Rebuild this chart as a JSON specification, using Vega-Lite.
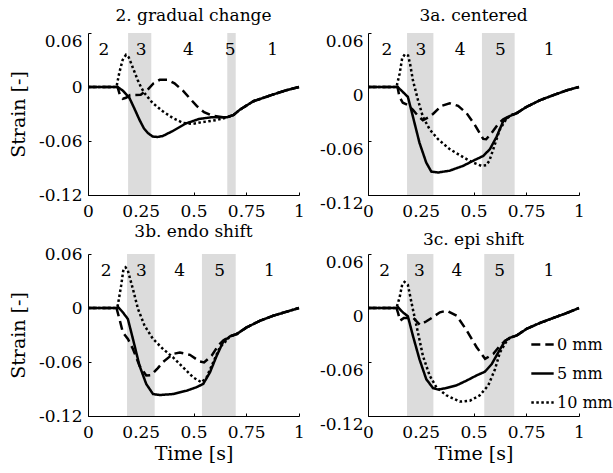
{
"$schema": "https://vega.github.io/schema/vega-lite/v6.json",
"background": "white",
"padding": {"left": 9, "top": 7, "right": 0, "bottom": 0},
"config": {
  "view": {"stroke": null},
  "font": "DejaVu Serif",
  "axis": {"domainColor": "black", "tickColor": "black", "labelColor": "black", "titleColor": "black", "labelFont": "DejaVu Serif", "titleFont": "DejaVu Serif", "labelFontSize": 17, "titleFontSize": 19, "titleFontWeight": "normal", "grid": false, "tickSize": -3, "domainWidth": 1, "tickWidth": 1},
  "legend": {"labelFont": "DejaVu Serif"},
  "title": {"font": "DejaVu Serif", "fontSize": 17, "fontWeight": "normal", "color": "black", "frame": "group", "baseline": "alphabetic"},
  "text": {"font": "DejaVu Serif", "fontSize": 17, "baseline": "middle", "align": "center", "color": "black"}
},
"resolve": {"scale": {"strokeDash": "independent"}, "legend": {"strokeDash": "independent"}},
"datasets": {
  "bands": [
    {"p": "A", "x1": 0.19, "x2": 0.30}, {"p": "A", "x1": 0.66, "x2": 0.70},
    {"p": "B", "x1": 0.185, "x2": 0.31}, {"p": "B", "x1": 0.54, "x2": 0.695},
    {"p": "C", "x1": 0.185, "x2": 0.316}, {"p": "C", "x1": 0.54, "x2": 0.70},
    {"p": "D", "x1": 0.185, "x2": 0.31}, {"p": "D", "x1": 0.551, "x2": 0.693}
  ],
  "labels": [
    {"p": "A", "t": 0.075, "n": "2"}, {"p": "A", "t": 0.252, "n": "3"}, {"p": "A", "t": 0.476, "n": "4"}, {"p": "A", "t": 0.674, "n": "5"}, {"p": "A", "t": 0.875, "n": "1"},
    {"p": "B", "t": 0.09, "n": "2"}, {"p": "B", "t": 0.251, "n": "3"}, {"p": "B", "t": 0.437, "n": "4"}, {"p": "B", "t": 0.627, "n": "5"}, {"p": "B", "t": 0.858, "n": "1"},
    {"p": "C", "t": 0.086, "n": "2"}, {"p": "C", "t": 0.253, "n": "3"}, {"p": "C", "t": 0.434, "n": "4"}, {"p": "C", "t": 0.624, "n": "5"}, {"p": "C", "t": 0.86, "n": "1"},
    {"p": "D", "t": 0.079, "n": "2"}, {"p": "D", "t": 0.244, "n": "3"}, {"p": "D", "t": 0.421, "n": "4"}, {"p": "D", "t": 0.624, "n": "5"}, {"p": "D", "t": 0.857, "n": "1"}
  ],
  "lines": [
    {"p":"A","r":"5 mm","t":0,"s":0},{"p":"A","r":"5 mm","t":0.14,"s":0},{"p":"A","r":"5 mm","t":0.165,"s":-0.004},{"p":"A","r":"5 mm","t":0.196,"s":-0.012},{"p":"A","r":"5 mm","t":0.22,"s":-0.024},{"p":"A","r":"5 mm","t":0.243,"s":-0.036},{"p":"A","r":"5 mm","t":0.265,"s":-0.046},{"p":"A","r":"5 mm","t":0.283,"s":-0.051},{"p":"A","r":"5 mm","t":0.306,"s":-0.055},{"p":"A","r":"5 mm","t":0.33,"s":-0.0555},{"p":"A","r":"5 mm","t":0.354,"s":-0.0545},{"p":"A","r":"5 mm","t":0.401,"s":-0.049},{"p":"A","r":"5 mm","t":0.464,"s":-0.0405},{"p":"A","r":"5 mm","t":0.528,"s":-0.0354},{"p":"A","r":"5 mm","t":0.59,"s":-0.0335},{"p":"A","r":"5 mm","t":0.66,"s":-0.0335},{"p":"A","r":"5 mm","t":0.69,"s":-0.031},{"p":"A","r":"5 mm","t":0.721,"s":-0.025},{"p":"A","r":"5 mm","t":0.784,"s":-0.0158},{"p":"A","r":"5 mm","t":0.875,"s":-0.0085},{"p":"A","r":"5 mm","t":0.938,"s":-0.0037},{"p":"A","r":"5 mm","t":1,"s":0},
    {"p":"A","r":"0 mm","t":0,"s":0},{"p":"A","r":"0 mm","t":0.14,"s":0},{"p":"A","r":"0 mm","t":0.15,"s":-0.008},{"p":"A","r":"0 mm","t":0.165,"s":-0.013},{"p":"A","r":"0 mm","t":0.18,"s":-0.012},{"p":"A","r":"0 mm","t":0.2,"s":-0.009},{"p":"A","r":"0 mm","t":0.25,"s":-0.0085},{"p":"A","r":"0 mm","t":0.283,"s":-0.003},{"p":"A","r":"0 mm","t":0.31,"s":0.004},{"p":"A","r":"0 mm","t":0.34,"s":0.008},{"p":"A","r":"0 mm","t":0.375,"s":0.008},{"p":"A","r":"0 mm","t":0.41,"s":0.004},{"p":"A","r":"0 mm","t":0.45,"s":-0.004},{"p":"A","r":"0 mm","t":0.48,"s":-0.012},{"p":"A","r":"0 mm","t":0.515,"s":-0.021},{"p":"A","r":"0 mm","t":0.55,"s":-0.028},{"p":"A","r":"0 mm","t":0.59,"s":-0.032},{"p":"A","r":"0 mm","t":0.64,"s":-0.0335},{"p":"A","r":"0 mm","t":0.66,"s":-0.0335},{"p":"A","r":"0 mm","t":0.69,"s":-0.031},{"p":"A","r":"0 mm","t":0.721,"s":-0.025},{"p":"A","r":"0 mm","t":0.784,"s":-0.0158},{"p":"A","r":"0 mm","t":0.875,"s":-0.0085},{"p":"A","r":"0 mm","t":0.938,"s":-0.0037},{"p":"A","r":"0 mm","t":1,"s":0},
    {"p":"A","r":"10 mm","t":0,"s":0},{"p":"A","r":"10 mm","t":0.135,"s":0},{"p":"A","r":"10 mm","t":0.148,"s":0.0155},{"p":"A","r":"10 mm","t":0.164,"s":0.03},{"p":"A","r":"10 mm","t":0.18,"s":0.0357},{"p":"A","r":"10 mm","t":0.193,"s":0.033},{"p":"A","r":"10 mm","t":0.204,"s":0.0265},{"p":"A","r":"10 mm","t":0.22,"s":0.017},{"p":"A","r":"10 mm","t":0.235,"s":0.0081},{"p":"A","r":"10 mm","t":0.25,"s":0.0005},{"p":"A","r":"10 mm","t":0.267,"s":-0.0066},{"p":"A","r":"10 mm","t":0.306,"s":-0.0177},{"p":"A","r":"10 mm","t":0.354,"s":-0.0269},{"p":"A","r":"10 mm","t":0.401,"s":-0.0343},{"p":"A","r":"10 mm","t":0.449,"s":-0.0398},{"p":"A","r":"10 mm","t":0.496,"s":-0.0409},{"p":"A","r":"10 mm","t":0.543,"s":-0.039},{"p":"A","r":"10 mm","t":0.607,"s":-0.0368},{"p":"A","r":"10 mm","t":0.66,"s":-0.0338},{"p":"A","r":"10 mm","t":0.69,"s":-0.031},{"p":"A","r":"10 mm","t":0.721,"s":-0.025},{"p":"A","r":"10 mm","t":0.784,"s":-0.0158},{"p":"A","r":"10 mm","t":0.875,"s":-0.0085},{"p":"A","r":"10 mm","t":0.938,"s":-0.0037},{"p":"A","r":"10 mm","t":1,"s":0},

    {"p":"B","r":"5 mm","t":0,"s":0},{"p":"B","r":"5 mm","t":0.141,"s":0},{"p":"B","r":"5 mm","t":0.165,"s":-0.0055},{"p":"B","r":"5 mm","t":0.189,"s":-0.011},{"p":"B","r":"5 mm","t":0.213,"s":-0.033},{"p":"B","r":"5 mm","t":0.244,"s":-0.062},{"p":"B","r":"5 mm","t":0.276,"s":-0.084},{"p":"B","r":"5 mm","t":0.3,"s":-0.094},{"p":"B","r":"5 mm","t":0.332,"s":-0.095},{"p":"B","r":"5 mm","t":0.387,"s":-0.093},{"p":"B","r":"5 mm","t":0.451,"s":-0.0876},{"p":"B","r":"5 mm","t":0.498,"s":-0.082},{"p":"B","r":"5 mm","t":0.546,"s":-0.0766},{"p":"B","r":"5 mm","t":0.578,"s":-0.069},{"p":"B","r":"5 mm","t":0.61,"s":-0.055},{"p":"B","r":"5 mm","t":0.641,"s":-0.038},{"p":"B","r":"5 mm","t":0.665,"s":-0.033},{"p":"B","r":"5 mm","t":0.705,"s":-0.029},{"p":"B","r":"5 mm","t":0.752,"s":-0.022},{"p":"B","r":"5 mm","t":0.816,"s":-0.0146},{"p":"B","r":"5 mm","t":0.879,"s":-0.009},{"p":"B","r":"5 mm","t":0.943,"s":-0.0036},{"p":"B","r":"5 mm","t":1,"s":0},
    {"p":"B","r":"0 mm","t":0,"s":0},{"p":"B","r":"0 mm","t":0.14,"s":0},{"p":"B","r":"0 mm","t":0.149,"s":-0.011},{"p":"B","r":"0 mm","t":0.165,"s":-0.0175},{"p":"B","r":"0 mm","t":0.189,"s":-0.02},{"p":"B","r":"0 mm","t":0.213,"s":-0.0255},{"p":"B","r":"0 mm","t":0.237,"s":-0.032},{"p":"B","r":"0 mm","t":0.26,"s":-0.037},{"p":"B","r":"0 mm","t":0.285,"s":-0.034},{"p":"B","r":"0 mm","t":0.308,"s":-0.03},{"p":"B","r":"0 mm","t":0.348,"s":-0.021},{"p":"B","r":"0 mm","t":0.387,"s":-0.018},{"p":"B","r":"0 mm","t":0.427,"s":-0.021},{"p":"B","r":"0 mm","t":0.467,"s":-0.029},{"p":"B","r":"0 mm","t":0.506,"s":-0.042},{"p":"B","r":"0 mm","t":0.546,"s":-0.0577},{"p":"B","r":"0 mm","t":0.56,"s":-0.058},{"p":"B","r":"0 mm","t":0.586,"s":-0.051},{"p":"B","r":"0 mm","t":0.617,"s":-0.041},{"p":"B","r":"0 mm","t":0.641,"s":-0.036},{"p":"B","r":"0 mm","t":0.665,"s":-0.033},{"p":"B","r":"0 mm","t":0.705,"s":-0.029},{"p":"B","r":"0 mm","t":0.752,"s":-0.022},{"p":"B","r":"0 mm","t":0.816,"s":-0.0146},{"p":"B","r":"0 mm","t":0.879,"s":-0.009},{"p":"B","r":"0 mm","t":0.943,"s":-0.0036},{"p":"B","r":"0 mm","t":1,"s":0},
    {"p":"B","r":"10 mm","t":0,"s":0},{"p":"B","r":"10 mm","t":0.135,"s":0},{"p":"B","r":"10 mm","t":0.15,"s":0.015},{"p":"B","r":"10 mm","t":0.162,"s":0.032},{"p":"B","r":"10 mm","t":0.175,"s":0.0365},{"p":"B","r":"10 mm","t":0.19,"s":0.035},{"p":"B","r":"10 mm","t":0.2,"s":0.025},{"p":"B","r":"10 mm","t":0.213,"s":0.0073},{"p":"B","r":"10 mm","t":0.237,"s":-0.0146},{"p":"B","r":"10 mm","t":0.26,"s":-0.033},{"p":"B","r":"10 mm","t":0.292,"s":-0.047},{"p":"B","r":"10 mm","t":0.332,"s":-0.058},{"p":"B","r":"10 mm","t":0.387,"s":-0.069},{"p":"B","r":"10 mm","t":0.451,"s":-0.078},{"p":"B","r":"10 mm","t":0.498,"s":-0.084},{"p":"B","r":"10 mm","t":0.538,"s":-0.0876},{"p":"B","r":"10 mm","t":0.56,"s":-0.087},{"p":"B","r":"10 mm","t":0.575,"s":-0.082},{"p":"B","r":"10 mm","t":0.594,"s":-0.069},{"p":"B","r":"10 mm","t":0.625,"s":-0.047},{"p":"B","r":"10 mm","t":0.657,"s":-0.035},{"p":"B","r":"10 mm","t":0.68,"s":-0.031},{"p":"B","r":"10 mm","t":0.705,"s":-0.029},{"p":"B","r":"10 mm","t":0.752,"s":-0.022},{"p":"B","r":"10 mm","t":0.816,"s":-0.0146},{"p":"B","r":"10 mm","t":0.879,"s":-0.009},{"p":"B","r":"10 mm","t":0.943,"s":-0.0036},{"p":"B","r":"10 mm","t":1,"s":0},

    {"p":"C","r":"5 mm","t":0,"s":0},{"p":"C","r":"5 mm","t":0.135,"s":0},{"p":"C","r":"5 mm","t":0.143,"s":0.001},{"p":"C","r":"5 mm","t":0.165,"s":-0.0048},{"p":"C","r":"5 mm","t":0.189,"s":-0.0122},{"p":"C","r":"5 mm","t":0.213,"s":-0.0344},{"p":"C","r":"5 mm","t":0.244,"s":-0.064},{"p":"C","r":"5 mm","t":0.276,"s":-0.0844},{"p":"C","r":"5 mm","t":0.308,"s":-0.0956},{"p":"C","r":"5 mm","t":0.34,"s":-0.0967},{"p":"C","r":"5 mm","t":0.403,"s":-0.0956},{"p":"C","r":"5 mm","t":0.467,"s":-0.0919},{"p":"C","r":"5 mm","t":0.514,"s":-0.088},{"p":"C","r":"5 mm","t":0.546,"s":-0.0844},{"p":"C","r":"5 mm","t":0.578,"s":-0.0715},{"p":"C","r":"5 mm","t":0.61,"s":-0.053},{"p":"C","r":"5 mm","t":0.641,"s":-0.0374},{"p":"C","r":"5 mm","t":0.673,"s":-0.0315},{"p":"C","r":"5 mm","t":0.705,"s":-0.0289},{"p":"C","r":"5 mm","t":0.752,"s":-0.0215},{"p":"C","r":"5 mm","t":0.816,"s":-0.0141},{"p":"C","r":"5 mm","t":0.879,"s":-0.0085},{"p":"C","r":"5 mm","t":0.943,"s":-0.004},{"p":"C","r":"5 mm","t":1,"s":0},
    {"p":"C","r":"0 mm","t":0,"s":0},{"p":"C","r":"0 mm","t":0.135,"s":0},{"p":"C","r":"0 mm","t":0.149,"s":-0.0122},{"p":"C","r":"0 mm","t":0.165,"s":-0.027},{"p":"C","r":"0 mm","t":0.189,"s":-0.0344},{"p":"C","r":"0 mm","t":0.213,"s":-0.0456},{"p":"C","r":"0 mm","t":0.244,"s":-0.064},{"p":"C","r":"0 mm","t":0.276,"s":-0.075},{"p":"C","r":"0 mm","t":0.3,"s":-0.0745},{"p":"C","r":"0 mm","t":0.33,"s":-0.067},{"p":"C","r":"0 mm","t":0.356,"s":-0.06},{"p":"C","r":"0 mm","t":0.403,"s":-0.051},{"p":"C","r":"0 mm","t":0.435,"s":-0.0495},{"p":"C","r":"0 mm","t":0.483,"s":-0.052},{"p":"C","r":"0 mm","t":0.53,"s":-0.0595},{"p":"C","r":"0 mm","t":0.55,"s":-0.0605},{"p":"C","r":"0 mm","t":0.586,"s":-0.053},{"p":"C","r":"0 mm","t":0.617,"s":-0.0418},{"p":"C","r":"0 mm","t":0.641,"s":-0.036},{"p":"C","r":"0 mm","t":0.673,"s":-0.0315},{"p":"C","r":"0 mm","t":0.705,"s":-0.0289},{"p":"C","r":"0 mm","t":0.752,"s":-0.0215},{"p":"C","r":"0 mm","t":0.816,"s":-0.0141},{"p":"C","r":"0 mm","t":0.879,"s":-0.0085},{"p":"C","r":"0 mm","t":0.943,"s":-0.004},{"p":"C","r":"0 mm","t":1,"s":0},
    {"p":"C","r":"10 mm","t":0,"s":0},{"p":"C","r":"10 mm","t":0.135,"s":0},{"p":"C","r":"10 mm","t":0.141,"s":0.0026},{"p":"C","r":"10 mm","t":0.157,"s":0.0248},{"p":"C","r":"10 mm","t":0.168,"s":0.043},{"p":"C","r":"10 mm","t":0.178,"s":0.0452},{"p":"C","r":"10 mm","t":0.189,"s":0.0415},{"p":"C","r":"10 mm","t":0.213,"s":0.021},{"p":"C","r":"10 mm","t":0.237,"s":-0.0011},{"p":"C","r":"10 mm","t":0.268,"s":-0.0196},{"p":"C","r":"10 mm","t":0.308,"s":-0.0344},{"p":"C","r":"10 mm","t":0.356,"s":-0.0456},{"p":"C","r":"10 mm","t":0.403,"s":-0.0548},{"p":"C","r":"10 mm","t":0.451,"s":-0.066},{"p":"C","r":"10 mm","t":0.498,"s":-0.077},{"p":"C","r":"10 mm","t":0.538,"s":-0.0826},{"p":"C","r":"10 mm","t":0.562,"s":-0.077},{"p":"C","r":"10 mm","t":0.594,"s":-0.06},{"p":"C","r":"10 mm","t":0.625,"s":-0.0437},{"p":"C","r":"10 mm","t":0.657,"s":-0.036},{"p":"C","r":"10 mm","t":0.673,"s":-0.0315},{"p":"C","r":"10 mm","t":0.705,"s":-0.0289},{"p":"C","r":"10 mm","t":0.752,"s":-0.0215},{"p":"C","r":"10 mm","t":0.816,"s":-0.0141},{"p":"C","r":"10 mm","t":0.879,"s":-0.0085},{"p":"C","r":"10 mm","t":0.943,"s":-0.004},{"p":"C","r":"10 mm","t":1,"s":0},

    {"p":"D","r":"5 mm","t":0,"s":0},{"p":"D","r":"5 mm","t":0.137,"s":0},{"p":"D","r":"5 mm","t":0.143,"s":0.0007},{"p":"D","r":"5 mm","t":0.165,"s":-0.0048},{"p":"D","r":"5 mm","t":0.189,"s":-0.0092},{"p":"D","r":"5 mm","t":0.213,"s":-0.031},{"p":"D","r":"5 mm","t":0.244,"s":-0.057},{"p":"D","r":"5 mm","t":0.276,"s":-0.079},{"p":"D","r":"5 mm","t":0.308,"s":-0.089},{"p":"D","r":"5 mm","t":0.332,"s":-0.0906},{"p":"D","r":"5 mm","t":0.371,"s":-0.089},{"p":"D","r":"5 mm","t":0.419,"s":-0.086},{"p":"D","r":"5 mm","t":0.467,"s":-0.0807},{"p":"D","r":"5 mm","t":0.514,"s":-0.075},{"p":"D","r":"5 mm","t":0.554,"s":-0.0708},{"p":"D","r":"5 mm","t":0.586,"s":-0.0624},{"p":"D","r":"5 mm","t":0.617,"s":-0.0495},{"p":"D","r":"5 mm","t":0.649,"s":-0.0367},{"p":"D","r":"5 mm","t":0.673,"s":-0.033},{"p":"D","r":"5 mm","t":0.705,"s":-0.0305},{"p":"D","r":"5 mm","t":0.752,"s":-0.0231},{"p":"D","r":"5 mm","t":0.816,"s":-0.0165},{"p":"D","r":"5 mm","t":0.879,"s":-0.011},{"p":"D","r":"5 mm","t":0.943,"s":-0.0055},{"p":"D","r":"5 mm","t":1,"s":0},
    {"p":"D","r":"0 mm","t":0,"s":0},{"p":"D","r":"0 mm","t":0.135,"s":0},{"p":"D","r":"0 mm","t":0.143,"s":-0.006},{"p":"D","r":"0 mm","t":0.152,"s":-0.014},{"p":"D","r":"0 mm","t":0.17,"s":-0.011},{"p":"D","r":"0 mm","t":0.215,"s":-0.011},{"p":"D","r":"0 mm","t":0.246,"s":-0.0188},{"p":"D","r":"0 mm","t":0.275,"s":-0.015},{"p":"D","r":"0 mm","t":0.302,"s":-0.011},{"p":"D","r":"0 mm","t":0.341,"s":-0.0048},{"p":"D","r":"0 mm","t":0.373,"s":-0.003},{"p":"D","r":"0 mm","t":0.42,"s":-0.0085},{"p":"D","r":"0 mm","t":0.468,"s":-0.025},{"p":"D","r":"0 mm","t":0.515,"s":-0.0436},{"p":"D","r":"0 mm","t":0.555,"s":-0.0565},{"p":"D","r":"0 mm","t":0.594,"s":-0.051},{"p":"D","r":"0 mm","t":0.626,"s":-0.0417},{"p":"D","r":"0 mm","t":0.649,"s":-0.0367},{"p":"D","r":"0 mm","t":0.673,"s":-0.033},{"p":"D","r":"0 mm","t":0.705,"s":-0.0305},{"p":"D","r":"0 mm","t":0.752,"s":-0.0231},{"p":"D","r":"0 mm","t":0.816,"s":-0.0165},{"p":"D","r":"0 mm","t":0.879,"s":-0.011},{"p":"D","r":"0 mm","t":0.943,"s":-0.0055},{"p":"D","r":"0 mm","t":1,"s":0},
    {"p":"D","r":"10 mm","t":0,"s":0},{"p":"D","r":"10 mm","t":0.135,"s":0},{"p":"D","r":"10 mm","t":0.15,"s":0.012},{"p":"D","r":"10 mm","t":0.162,"s":0.026},{"p":"D","r":"10 mm","t":0.173,"s":0.029},{"p":"D","r":"10 mm","t":0.189,"s":0.0257},{"p":"D","r":"10 mm","t":0.213,"s":-0.0018},{"p":"D","r":"10 mm","t":0.237,"s":-0.0275},{"p":"D","r":"10 mm","t":0.26,"s":-0.053},{"p":"D","r":"10 mm","t":0.292,"s":-0.075},{"p":"D","r":"10 mm","t":0.324,"s":-0.088},{"p":"D","r":"10 mm","t":0.371,"s":-0.097},{"p":"D","r":"10 mm","t":0.435,"s":-0.104},{"p":"D","r":"10 mm","t":0.483,"s":-0.103},{"p":"D","r":"10 mm","t":0.53,"s":-0.097},{"p":"D","r":"10 mm","t":0.57,"s":-0.086},{"p":"D","r":"10 mm","t":0.602,"s":-0.068},{"p":"D","r":"10 mm","t":0.625,"s":-0.0495},{"p":"D","r":"10 mm","t":0.657,"s":-0.0367},{"p":"D","r":"10 mm","t":0.673,"s":-0.033},{"p":"D","r":"10 mm","t":0.705,"s":-0.0305},{"p":"D","r":"10 mm","t":0.752,"s":-0.0231},{"p":"D","r":"10 mm","t":0.816,"s":-0.0165},{"p":"D","r":"10 mm","t":0.879,"s":-0.011},{"p":"D","r":"10 mm","t":0.943,"s":-0.0055},{"p":"D","r":"10 mm","t":1,"s":0}
  ]
},
"bounds": "flush",
"columns": 2,
"spacing": {"row": 59, "column": 69},
"concat": [
  {
    "width": 211, "height": 162,
    "title": {"text": "2. gradual change", "offset": 7},
    "layer": [
      {"data": {"name": "bands"}, "transform": [{"filter": "datum.p === 'A'"}], "mark": {"type": "rect", "color": "#dcdcdc"},
       "encoding": {"x": {"field": "x1", "type": "quantitative", "scale": {"domain": [0, 1], "nice": false}, "axis": {"values": [0, 0.25, 0.5, 0.75, 1], "labelExpr": "'' + datum.value", "title": null, "labelPadding": 11, "labelFlush": false}}, "x2": {"field": "x2"}}},
      {"data": {"name": "labels"}, "transform": [{"filter": "datum.p === 'A'"}], "mark": {"type": "text"},
       "encoding": {"x": {"field": "t", "type": "quantitative", "title": null}, "y": {"datum": 0.041, "type": "quantitative", "title": null}, "text": {"field": "n"}}},
      {"data": {"name": "lines"}, "transform": [{"filter": "datum.p === 'A'"}], "mark": {"type": "line", "color": "black", "strokeWidth": 2.5, "strokeCap": "butt"},
       "encoding": {
         "x": {"field": "t", "type": "quantitative", "scale": {"domain": [0, 1], "nice": false}, "axis": {"values": [0, 0.25, 0.5, 0.75, 1], "labelExpr": "'' + datum.value", "title": null, "labelPadding": 11, "labelFlush": false}},
         "y": {"field": "s", "type": "quantitative", "scale": {"domain": [-0.12, 0.06], "nice": false, "zero": false}, "axis": {"values": [-0.12, -0.06, 0, 0.06], "labelExpr": "'' + datum.value", "title": "Strain [-]", "labelPadding": 9, "titlePadding": 10, "labelFlush": false, "labelBaseline": {"condition": {"test": "datum.value > 0.05", "value": "top"}, "value": "middle"}}},
         "strokeDash": {"field": "r", "type": "nominal", "scale": {"domain": ["0 mm", "5 mm", "10 mm"], "range": [[9, 5], [1, 0], [2.5, 2.5]]}, "legend": null}
       }}
    ]
  },
  {
    "width": 211, "height": 162,
    "title": {"text": "3a. centered", "offset": 7},
    "layer": [
      {"data": {"name": "bands"}, "transform": [{"filter": "datum.p === 'B'"}], "mark": {"type": "rect", "color": "#dcdcdc"},
       "encoding": {"x": {"field": "x1", "type": "quantitative", "scale": {"domain": [0, 1], "nice": false}, "axis": {"values": [0, 0.25, 0.5, 0.75, 1], "labelExpr": "'' + datum.value", "title": null, "labelPadding": 11, "labelFlush": false}}, "x2": {"field": "x2"}}},
      {"data": {"name": "labels"}, "transform": [{"filter": "datum.p === 'B'"}], "mark": {"type": "text"},
       "encoding": {"x": {"field": "t", "type": "quantitative", "title": null}, "y": {"datum": 0.041, "type": "quantitative", "title": null}, "text": {"field": "n"}}},
      {"data": {"name": "lines"}, "transform": [{"filter": "datum.p === 'B'"}], "mark": {"type": "line", "color": "black", "strokeWidth": 2.5, "strokeCap": "butt"},
       "encoding": {
         "x": {"field": "t", "type": "quantitative", "scale": {"domain": [0, 1], "nice": false}, "axis": {"values": [0, 0.25, 0.5, 0.75, 1], "labelExpr": "'' + datum.value", "title": null, "labelPadding": 11, "labelFlush": false}},
         "y": {"field": "s", "type": "quantitative", "scale": {"domain": [-0.12, 0.06], "nice": false, "zero": false}, "axis": {"values": [-0.12, -0.06, 0, 0.06], "labelExpr": "'' + datum.value", "title": null, "labelPadding": 8, "labelFlush": false, "labelBaseline": "top"}},
         "strokeDash": {"field": "r", "type": "nominal", "scale": {"domain": ["0 mm", "5 mm", "10 mm"], "range": [[9, 5], [1, 0], [2.5, 2.5]]}, "legend": null}
       }}
    ]
  },
  {
    "width": 211, "height": 162,
    "title": {"text": "3b. endo shift", "offset": 4},
    "layer": [
      {"data": {"name": "bands"}, "transform": [{"filter": "datum.p === 'C'"}], "mark": {"type": "rect", "color": "#dcdcdc"},
       "encoding": {"x": {"field": "x1", "type": "quantitative", "scale": {"domain": [0, 1], "nice": false}, "axis": {"values": [0, 0.25, 0.5, 0.75, 1], "labelExpr": "'' + datum.value", "title": "Time [s]", "labelPadding": 11, "titlePadding": 4, "labelFlush": false}}, "x2": {"field": "x2"}}},
      {"data": {"name": "labels"}, "transform": [{"filter": "datum.p === 'C'"}], "mark": {"type": "text"},
       "encoding": {"x": {"field": "t", "type": "quantitative", "title": "Time [s]"}, "y": {"datum": 0.041, "type": "quantitative", "title": "Strain [-]"}, "text": {"field": "n"}}},
      {"data": {"name": "lines"}, "transform": [{"filter": "datum.p === 'C'"}], "mark": {"type": "line", "color": "black", "strokeWidth": 2.5, "strokeCap": "butt"},
       "encoding": {
         "x": {"field": "t", "type": "quantitative", "scale": {"domain": [0, 1], "nice": false}, "axis": {"values": [0, 0.25, 0.5, 0.75, 1], "labelExpr": "'' + datum.value", "title": "Time [s]", "labelPadding": 11, "titlePadding": 4, "labelFlush": false}},
         "y": {"field": "s", "type": "quantitative", "scale": {"domain": [-0.12, 0.06], "nice": false, "zero": false}, "axis": {"values": [-0.12, -0.06, 0, 0.06], "labelExpr": "'' + datum.value", "title": "Strain [-]", "labelPadding": 9, "titlePadding": 10, "labelFlush": false, "labelBaseline": "middle"}},
         "strokeDash": {"field": "r", "type": "nominal", "scale": {"domain": ["0 mm", "5 mm", "10 mm"], "range": [[9, 5], [1, 0], [2.5, 2.5]]}, "legend": null}
       }}
    ]
  },
  {
    "width": 211, "height": 162,
    "title": {"text": "3c. epi shift", "offset": 4},
    "layer": [
      {"data": {"name": "bands"}, "transform": [{"filter": "datum.p === 'D'"}], "mark": {"type": "rect", "color": "#dcdcdc"},
       "encoding": {"x": {"field": "x1", "type": "quantitative", "scale": {"domain": [0, 1], "nice": false}, "axis": {"values": [0, 0.25, 0.5, 0.75, 1], "labelExpr": "'' + datum.value", "title": "Time [s]", "labelPadding": 11, "titlePadding": 4, "labelFlush": false}}, "x2": {"field": "x2"}}},
      {"data": {"name": "labels"}, "transform": [{"filter": "datum.p === 'D'"}], "mark": {"type": "text"},
       "encoding": {"x": {"field": "t", "type": "quantitative", "title": "Time [s]"}, "y": {"datum": 0.041, "type": "quantitative", "title": null}, "text": {"field": "n"}}},
      {"data": {"name": "lines"}, "transform": [{"filter": "datum.p === 'D'"}], "mark": {"type": "line", "color": "black", "strokeWidth": 2.5, "strokeCap": "butt"},
       "encoding": {
         "x": {"field": "t", "type": "quantitative", "scale": {"domain": [0, 1], "nice": false}, "axis": {"values": [0, 0.25, 0.5, 0.75, 1], "labelExpr": "'' + datum.value", "title": "Time [s]", "labelPadding": 11, "titlePadding": 4, "labelFlush": false}},
         "y": {"field": "s", "type": "quantitative", "scale": {"domain": [-0.12, 0.06], "nice": false, "zero": false}, "axis": {"values": [-0.12, -0.06, 0, 0.06], "labelExpr": "'' + datum.value", "title": null, "labelPadding": 8, "labelFlush": false, "labelBaseline": "top"}},
         "strokeDash": {"field": "r", "type": "nominal", "scale": {"domain": ["0 mm", "5 mm", "10 mm"], "range": [[9, 5], [1, 0], [2.5, 2.5]]},
           "legend": {"title": null, "orient": "none", "legendX": 162, "legendY": 78, "symbolType": "stroke", "symbolSize": 500, "symbolStrokeWidth": 2.5, "symbolStrokeColor": "black", "labelFontSize": 16, "labelColor": "black", "labelOffset": 2, "rowPadding": 8, "padding": 0, "labelLimit": 200}}
       }}
    ]
  }
]
}
